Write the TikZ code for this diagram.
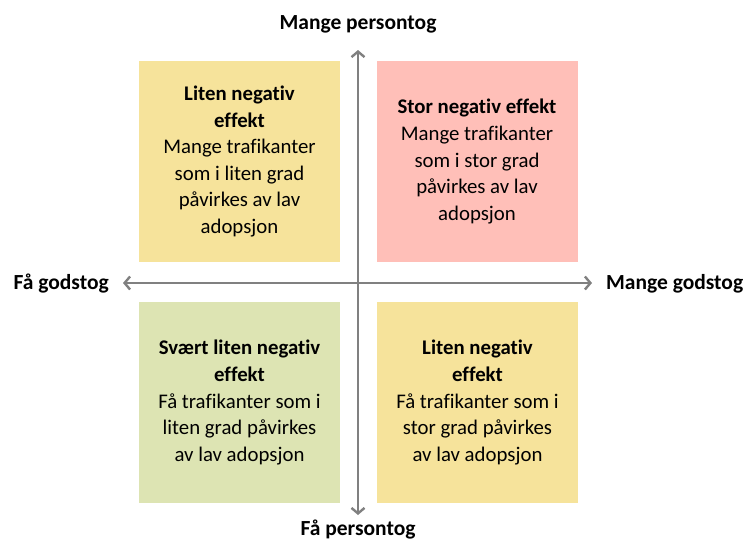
\documentclass[tikz,border=0pt]{standalone}
\usepackage{fontspec}
\setmainfont{Carlito}[RawFeature={-liga;-dlig;-calt}]
\usetikzlibrary{arrows.meta}
\definecolor{qyellow}{RGB}{246,227,155}
\definecolor{qpink}{RGB}{255,191,184}
\definecolor{qgreen}{RGB}{221,228,179}
\definecolor{axisgray}{RGB}{128,128,128}
\tikzset{
  quad/.style={fill=#1, draw=none, minimum width=201pt, minimum height=201pt, inner sep=0pt,
    align=center, font=\fontsize{20.8}{26.6}\selectfont, text=black},
  axislabel/.style={font=\fontsize{21.5}{26}\selectfont\bfseries, inner sep=0pt, text=black},
  axisarrow/.style={draw=axisgray, line width=2.4pt, {Straight Barb[length=5.5pt,width=13pt]}-{Straight Barb[length=5.5pt,width=13pt]}}
}
\begin{document}
\begin{tikzpicture}[x=1pt,y=-1pt]
\useasboundingbox (0,0) rectangle (750,542);
\node[quad=qyellow] (tl) at (239.5,161.5) {\textbf{Liten negativ}\\\textbf{effekt}\\Mange trafikanter\\som i liten grad\\påvirkes av lav\\adopsjon};
\node[quad=qpink] (tr) at (477,161.5) {\textbf{Stor negativ effekt}\\Mange trafikanter\\som i stor grad\\påvirkes av lav\\adopsjon};
\node[quad=qgreen] (bl) at (239.5,402.5) {\textbf{Svært liten negativ}\\\textbf{effekt}\\Få trafikanter som i\\liten grad påvirkes\\av lav adopsjon};
\node[quad=qyellow] (br) at (477.5,402.5) {\textbf{Liten negativ}\\\textbf{effekt}\\Få trafikanter som i\\stor grad påvirkes\\av lav adopsjon};
\coordinate (top) at (358,50);
\coordinate (bot) at (358,515);
\coordinate (left) at (123,283);
\coordinate (right) at (592,283);
\draw[axisarrow] (bot) -- (top);
\draw[axisarrow] (left) -- (right);
\node[axislabel] (lt) at (358,24) {Mange persontog};
\node[axislabel] (lb) at (358,530) {Få persontog};
\node[axislabel, anchor=east] (ll) at (109,284) {Få godstog};
\node[axislabel, anchor=west] (lr) at (606,284) {Mange godstog};
\end{tikzpicture}
\end{document}
